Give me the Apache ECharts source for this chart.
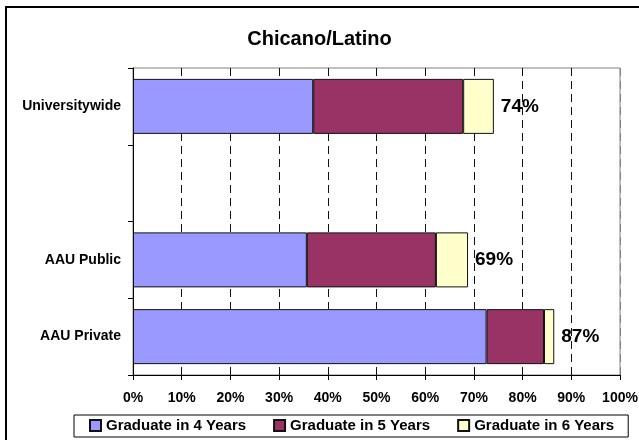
<!DOCTYPE html>
<html>
<head>
<meta charset="utf-8">
<script src="https://cdn.jsdelivr.net/npm/echarts@6/dist/echarts.min.js"></script>
<style>
html,body{margin:0;padding:0;background:#fff;}
#chart{width:639px;height:440px;}
</style>
</head>
<body>
<div id="chart"></div>
<script>
var titleText = 'Chicano/Latino';
var categories = ['Universitywide', '', 'AAU Public', 'AAU Private'];
var seriesNames = ['Graduate in 4 Years', 'Graduate in 5 Years', 'Graduate in 6 Years'];
var grad4 = [37.0, null, 35.7, 72.6];
var grad5 = [30.8, null, 26.5, 11.8];
var grad6 = [6.3, null, 6.6, 2.1];
var totals = ['74%', '', '69%', '87%'];
var xMin = 0, xMax = 100, xStep = 10;

var FONT = "'Liberation Sans', Arial, sans-serif";
var colors = ['#9999FF', '#993366', '#FFFFCC'];

var gridColors = [];
for (var i = 0; i <= (xMax - xMin) / xStep; i++) {
  gridColors.push(i === (xMax - xMin) / xStep ? '#808080' : '#111111');
}

function mkSeries(idx, data, withLabel) {
  var s = {
    name: seriesNames[idx],
    type: 'bar',
    stack: 'total',
    barWidth: 55,
    data: data,
    itemStyle: { color: colors[idx], borderColor: '#111', borderWidth: 1 },
    emphasis: { disabled: true },
    animation: false
  };
  if (withLabel) {
    s.label = {
      show: true,
      position: 'right',
      distance: 7,
      formatter: function (p) { return totals[p.dataIndex]; },
      fontFamily: FONT,
      fontWeight: 'bold',
      fontSize: 19,
      color: '#000'
    };
  }
  return s;
}

var chart = echarts.init(document.getElementById('chart'), null, { renderer: 'canvas' });
chart.setOption({
  backgroundColor: '#fff',
  animation: false,
  title: {
    text: titleText,
    left: 'center',
    top: 24,
    textStyle: { fontFamily: FONT, fontWeight: 'bold', fontSize: 20, color: '#000' }
  },
  graphic: [{
    type: 'rect',
    shape: { x: 6, y: 7, width: 700, height: 500 },
    style: { fill: 'none', stroke: '#000', lineWidth: 2 },
    silent: true,
    z: 100
  }],
  legend: {
    data: seriesNames,
    left: 74,
    top: 415,
    icon: 'rect',
    itemWidth: 11,
    itemHeight: 11,
    itemGap: 27,
    padding: [3, 14, 4, 15],
    borderColor: '#000',
    borderWidth: 1,
    selectedMode: false,
    textStyle: { fontFamily: FONT, fontWeight: 'bold', fontSize: 15, color: '#000' }
  },
  grid: {
    left: 133, right: 19, top: 68, bottom: 65,
    containLabel: false,
    outerBoundsMode: 'none',
    show: true,
    borderColor: '#808080',
    borderWidth: 1,
    backgroundColor: 'transparent'
  },
  xAxis: {
    type: 'value',
    min: xMin, max: xMax, interval: xStep,
    axisLine: { show: true, lineStyle: { color: '#000', width: 1 } },
    axisTick: { show: true, length: 5, lineStyle: { color: '#000' } },
    axisLabel: {
      formatter: '{value}%',
      margin: 16,
      fontFamily: FONT, fontWeight: 'bold', fontSize: 14, color: '#000'
    },
    splitLine: { show: true, lineStyle: { color: gridColors, type: [8, 5], width: 1 } }
  },
  yAxis: {
    type: 'category',
    inverse: true,
    data: categories,
    axisLine: { show: true, lineStyle: { color: '#000', width: 1 } },
    axisTick: { show: true, length: 5, lineStyle: { color: '#000' } },
    axisLabel: {
      margin: 12,
      fontFamily: FONT, fontWeight: 'bold', fontSize: 14, color: '#000'
    },
    splitLine: { show: false }
  },
  series: [
    mkSeries(0, grad4, false),
    mkSeries(1, grad5, false),
    mkSeries(2, grad6, true)
  ]
});
</script>
</body>
</html>
